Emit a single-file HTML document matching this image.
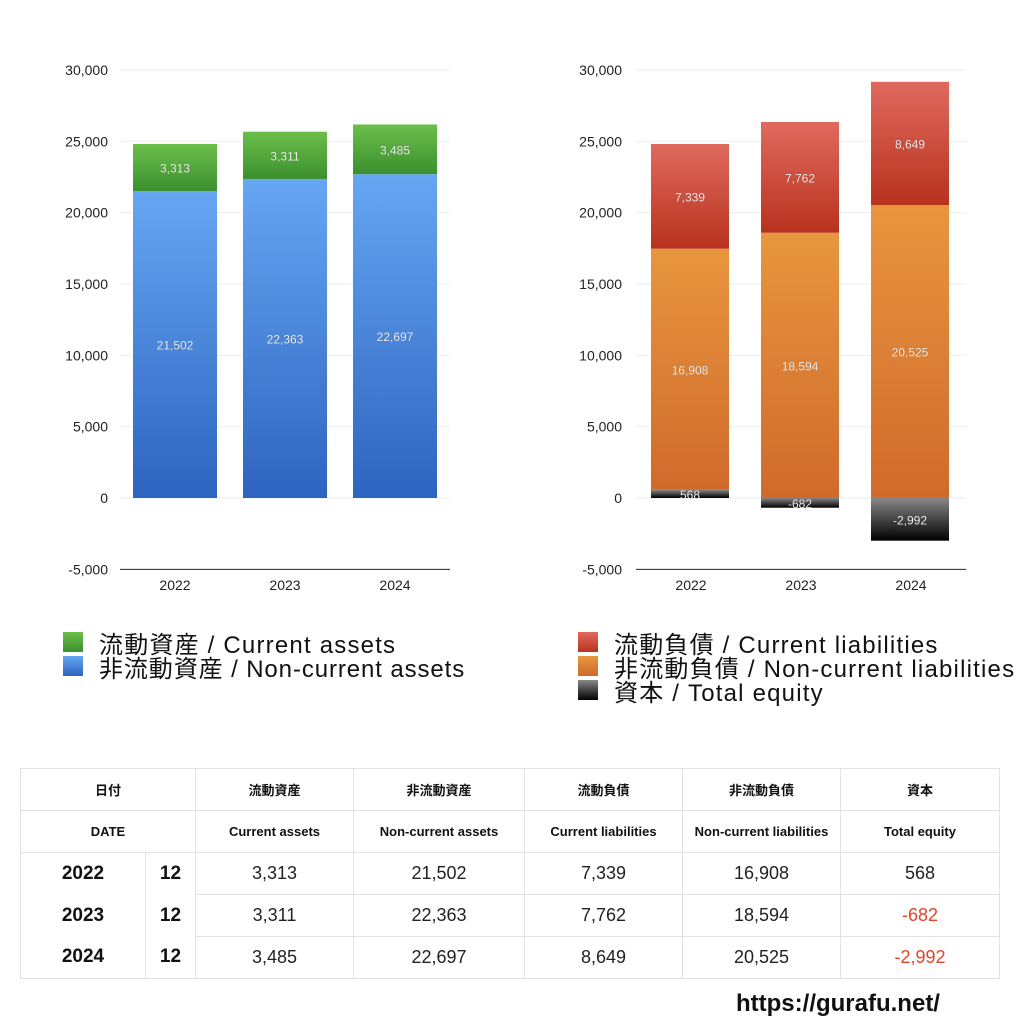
<!DOCTYPE html>
<html><head><meta charset="utf-8">
<style>
body{margin:0;background:#fff;width:1024px;height:1024px;overflow:hidden;position:relative;font-family:"Liberation Sans","Noto Sans CJK JP",sans-serif}
svg{position:absolute;left:0;top:0}
.leg{position:absolute;font-size:24px;letter-spacing:0.1px;color:#111;display:flex;align-items:center;height:24px;white-space:nowrap}
.sw{width:20px;height:20px;margin-right:16px}
table{position:absolute;left:20px;top:768px;border-collapse:collapse;width:980px;font-family:"Liberation Sans","Noto Sans CJK JP",sans-serif}
td{border:1px solid #e2e2e2;text-align:center;height:41px;padding:0;font-size:18px;color:#222}
tr.h td{font-size:13px;font-weight:bold;color:#111}
td.y{font-weight:bold;font-size:19px;color:#111}
td.nb{border-top:none;border-bottom:none}
.neg{color:#e0452a}
.url{position:absolute;left:736px;top:990px;font-size:24px;font-weight:bold;color:#111}
</style></head><body>
<svg id="chart" width="1024" height="620"></svg>
<div class="leg" style="left:63px;top:630px;letter-spacing:1.2px"><div class="sw" style="background:linear-gradient(#6cbf4a,#3b8f2e)"></div>流動資産 / Current assets</div>
<div class="leg" style="left:63px;top:654px;letter-spacing:0.9px"><div class="sw" style="background:linear-gradient(#66a6f2,#2d64c0)"></div>非流動資産 / Non-current assets</div>
<div class="leg" style="left:578px;top:630px;letter-spacing:1.2px"><div class="sw" style="background:linear-gradient(#e06a5e,#b8321e)"></div>流動負債 / Current liabilities</div>
<div class="leg" style="left:578px;top:654px;letter-spacing:1.2px"><div class="sw" style="background:linear-gradient(#e8963e,#d06a2c)"></div>非流動負債 / Non-current liabilities</div>
<div class="leg" style="left:578px;top:678px;letter-spacing:1.2px"><div class="sw" style="background:linear-gradient(#888,#000)"></div>資本 / Total equity</div>
<table>
<colgroup><col style="width:125px"><col style="width:50px"><col style="width:158px"><col style="width:171px"><col style="width:158px"><col style="width:158px"><col style="width:159px"></colgroup>
<tr class="h"><td colspan="2">日付</td><td>流動資産</td><td>非流動資産</td><td>流動負債</td><td>非流動負債</td><td>資本</td></tr>
<tr class="h"><td colspan="2">DATE</td><td>Current assets</td><td>Non-current assets</td><td>Current liabilities</td><td>Non-current liabilities</td><td>Total equity</td></tr>
<tr><td class="y" style="border-bottom:none">2022</td><td class="y" style="border-bottom:none">12</td><td>3,313</td><td>21,502</td><td>7,339</td><td>16,908</td><td>568</td></tr>
<tr><td class="y nb">2023</td><td class="y nb">12</td><td>3,311</td><td>22,363</td><td>7,762</td><td>18,594</td><td class="neg">-682</td></tr>
<tr><td class="y" style="border-top:none">2024</td><td class="y" style="border-top:none">12</td><td>3,485</td><td>22,697</td><td>8,649</td><td>20,525</td><td class="neg">-2,992</td></tr>
</table>
<div class="url">https://gurafu.net/</div>
<script>
const years=["2022","2023","2024"];
const currentAssets=[3313,3311,3485];
const nonCurrentAssets=[21502,22363,22697];
const currentLiab=[7339,7762,8649];
const nonCurrentLiab=[16908,18594,20525];
const equity=[568,-682,-2992];
const ticks=[30000,25000,20000,15000,10000,5000,0,-5000];
const NS="http://www.w3.org/2000/svg";
const svg=document.getElementById('chart');
const y=v=>498-v*428/30000;
const fmt=v=>v.toLocaleString('en-US');
function el(t,a,p){const e=document.createElementNS(NS,t);for(const k in a)e.setAttribute(k,a[k]);(p||svg).appendChild(e);return e;}
const defs=el('defs',{});
[['g',"#6cbf4a","#3b8f2e"],['b',"#66a6f2","#2d64c0"],['r',"#e06a5e","#b8321e"],['o',"#e8963e","#d06a2c"],['k',"#888","#000"]].forEach(([id,a,b])=>{
 const g=el('linearGradient',{id:id,x1:0,y1:0,x2:0,y2:1},defs);el('stop',{offset:0,'stop-color':a},g);el('stop',{offset:1,'stop-color':b},g);});
function axes(x0,x1,lx,name){
 ticks.forEach(t=>{
  const l=el('line',{x1:x0,x2:x1,y1:y(t),y2:y(t),stroke:t==-5000?'#222':'#eee','stroke-width':1});
  
  const tx=el('text',{x:lx,y:y(t)+5,'text-anchor':'end','font-size':14,fill:'#222'});tx.textContent=fmt(t);
  
 });
 years.forEach((yr,i)=>{const tx=el('text',{x:x0+55+i*110,y:590,'text-anchor':'middle','font-size':14,fill:'#222'});tx.textContent=yr;
  });
}
function seg(x,w,v0,v1,fill,val,name){
 const top=Math.min(y(v0),y(v1)),h=Math.abs(y(v1)-y(v0));
 const r=el('rect',{x:x,y:top,width:w,height:h,fill:fill});
 
 const t=el('text',{x:x+w/2,y:top+h/2+5,'text-anchor':'middle','font-size':12,fill:'#fff',stroke:'rgba(0,0,0,0.25)','stroke-width':0.3});t.textContent=fmt(val);
 
}
axes(120,450,108,'left');
axes(636,966,622,'right');
years.forEach((yr,i)=>{
 const x=133+i*110;
 seg(x,84,0,nonCurrentAssets[i],'url(#b)',nonCurrentAssets[i],'bar-non-current-assets-'+yr);
 seg(x,84,nonCurrentAssets[i],nonCurrentAssets[i]+currentAssets[i],'url(#g)',currentAssets[i],'bar-current-assets-'+yr);
 const xr=651+i*110,b=Math.max(0,equity[i]);
 seg(xr,78,0,equity[i],'url(#k)',equity[i],'bar-equity-'+yr);
 seg(xr,78,b,b+nonCurrentLiab[i],'url(#o)',nonCurrentLiab[i],'bar-non-current-liabilities-'+yr);
 seg(xr,78,b+nonCurrentLiab[i],b+nonCurrentLiab[i]+currentLiab[i],'url(#r)',currentLiab[i],'bar-current-liabilities-'+yr);
});
</script>
</body></html>
